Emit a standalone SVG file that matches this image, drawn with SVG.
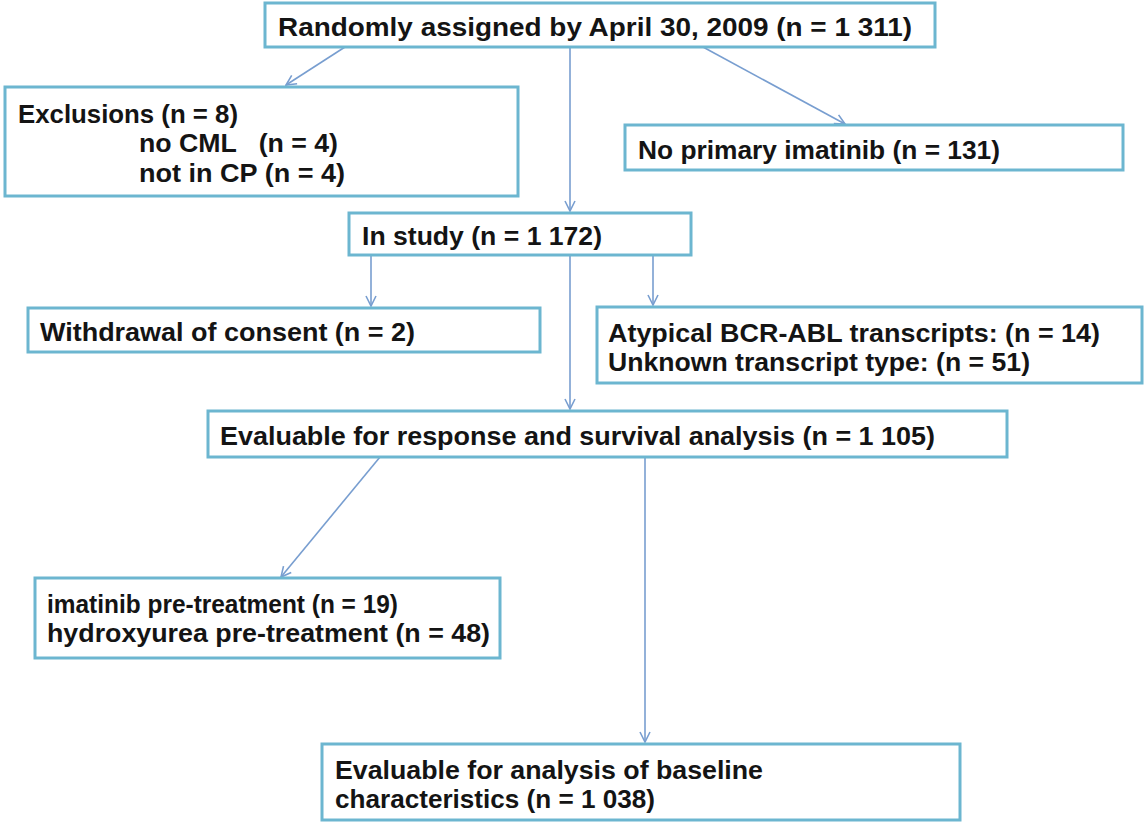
<svg xmlns="http://www.w3.org/2000/svg" width="1144" height="823" viewBox="0 0 1144 823">
<defs>
<style>
.box{fill:#fff;stroke:#6cb6d0;stroke-width:3}
.t{font-family:"Liberation Sans",Arial,sans-serif;font-weight:bold;font-size:25.5px;fill:#141414}
.c{stroke:#789ed0;stroke-width:1.6;fill:none}
</style>
<marker id="ah" viewBox="0 0 12 12" refX="11" refY="6" markerWidth="12" markerHeight="12" markerUnits="userSpaceOnUse" orient="auto">
<path d="M1,1 L11,6 L1,11" fill="none" stroke="#789ed0" stroke-width="1.6"/>
</marker>
</defs>
<rect width="1144" height="823" fill="#fff"/>
<g id="connectors">
<line class="c" x1="345" y1="47" x2="286" y2="85" marker-end="url(#ah)"/>
<line class="c" x1="570" y1="47" x2="570" y2="211" marker-end="url(#ah)"/>
<line class="c" x1="703" y1="47" x2="845" y2="124" marker-end="url(#ah)"/>
<line class="c" x1="371" y1="255" x2="371" y2="306" marker-end="url(#ah)"/>
<line class="c" x1="570" y1="255" x2="570" y2="409" marker-end="url(#ah)"/>
<line class="c" x1="653" y1="255" x2="653" y2="305" marker-end="url(#ah)"/>
<line class="c" x1="380" y1="457" x2="281" y2="577" marker-end="url(#ah)"/>
<line class="c" x1="645" y1="457" x2="645" y2="742" marker-end="url(#ah)"/>
</g>
<g id="n1">
<rect class="box" x="265" y="3" width="670" height="44"/>
<text class="t" x="278" y="36" textLength="634" lengthAdjust="spacingAndGlyphs">Randomly assigned by April 30, 2009 (n = 1 311)</text>
</g>
<g id="n2">
<rect class="box" x="5" y="87" width="513" height="109"/>
<text class="t" x="18" y="123" textLength="220" lengthAdjust="spacingAndGlyphs">Exclusions (n = 8)</text>
<text class="t" x="139" y="152" textLength="199" lengthAdjust="spacingAndGlyphs" xml:space="preserve">no CML   (n = 4)</text>
<text class="t" x="139" y="182" textLength="206" lengthAdjust="spacingAndGlyphs">not in CP (n = 4)</text>
</g>
<g id="n3">
<rect class="box" x="625" y="125" width="498" height="45"/>
<text class="t" x="638" y="159" textLength="362" lengthAdjust="spacingAndGlyphs">No primary imatinib (n = 131)</text>
</g>
<g id="n4">
<rect class="box" x="349" y="213" width="342" height="42"/>
<text class="t" x="362" y="245" textLength="240" lengthAdjust="spacingAndGlyphs">In study (n = 1 172)</text>
</g>
<g id="n5">
<rect class="box" x="28" y="308" width="512" height="44"/>
<text class="t" x="40" y="341" textLength="375" lengthAdjust="spacingAndGlyphs">Withdrawal of consent (n = 2)</text>
</g>
<g id="n6">
<rect class="box" x="597" y="307" width="545" height="76"/>
<text class="t" x="608" y="342" textLength="492" lengthAdjust="spacingAndGlyphs">Atypical BCR-ABL transcripts: (n = 14)</text>
<text class="t" x="608" y="371" textLength="422" lengthAdjust="spacingAndGlyphs">Unknown transcript type: (n = 51)</text>
</g>
<g id="n7">
<rect class="box" x="208" y="411" width="799" height="46"/>
<text class="t" x="220" y="445" textLength="715" lengthAdjust="spacingAndGlyphs">Evaluable for response and survival analysis (n = 1 105)</text>
</g>
<g id="n8">
<rect class="box" x="35" y="578" width="465" height="80"/>
<text class="t" x="47" y="613" textLength="351" lengthAdjust="spacingAndGlyphs">imatinib pre-treatment (n = 19)</text>
<text class="t" x="47" y="642" textLength="443" lengthAdjust="spacingAndGlyphs">hydroxyurea pre-treatment (n = 48)</text>
</g>
<g id="n9">
<rect class="box" x="322" y="744" width="638" height="76"/>
<text class="t" x="335" y="779" textLength="428" lengthAdjust="spacingAndGlyphs">Evaluable for analysis of baseline</text>
<text class="t" x="335" y="808" textLength="320" lengthAdjust="spacingAndGlyphs">characteristics (n = 1 038)</text>
</g>
</svg>
